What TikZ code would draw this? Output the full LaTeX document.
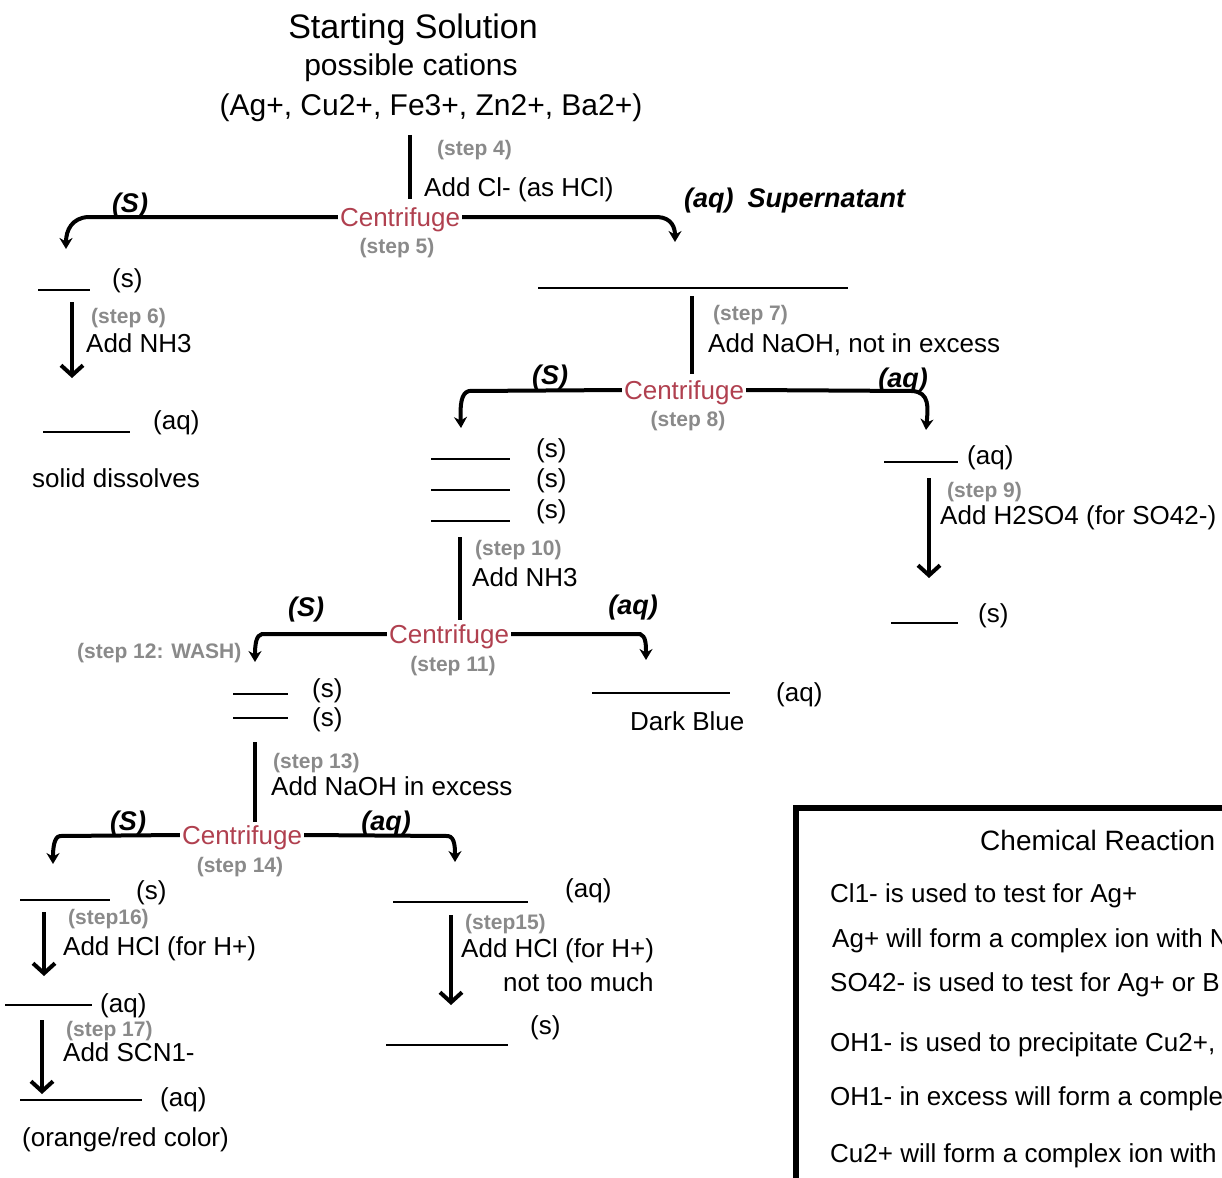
\documentclass[tikz,border=0pt]{standalone}
\usepackage{fontspec}
\setmainfont{Liberation Sans}
\usetikzlibrary{arrows.meta}
\definecolor{cfred}{HTML}{B0404F}
\definecolor{stepgray}{HTML}{8A8A8A}
\begin{document}
\begin{tikzpicture}[x=1pt,y=-1pt,
  txt/.style={inner sep=0pt,anchor=west,font=\fontsize{26}{30}\selectfont,text height=18.6pt,text depth=0pt},
  cf/.style={inner ysep=0pt,inner xsep=2pt,font=\fontsize{26}{30}\selectfont,text=cfred,text height=18.6pt,text depth=0pt},
  stp/.style={inner sep=0pt,font=\fontsize{21}{24}\selectfont\bfseries,text=stepgray,text height=15pt,text depth=0pt},
  hand/.style={inner sep=0pt,font=\fontsize{27}{30}\selectfont\bfseries\itshape},
  flow/.style={line width=4.5pt},
  hwarr/.style={line width=4pt,-{Stealth[length=11pt,width=13pt]}},
  darr/.style={line width=4pt,-{Straight Barb[length=10pt,width=22pt]}},
  blank/.style={line width=1.4pt}]
\useasboundingbox (0,0) rectangle (1222,1177);
\clip (0,0) rectangle (1222,1177);

% ---------- top ----------
\node[inner sep=0pt,font=\fontsize{34}{40}\selectfont] (title) at (413,30) {Starting Solution};
\node[inner sep=0pt,font=\fontsize{30}{36}\selectfont] (poss) at (411,68) {possible cations};
\node[inner sep=0pt,font=\fontsize{30}{36}\selectfont] (cations) at (431,108) {(Ag+, Cu2+, Fe3+, Zn2+, Ba2+)};
\coordinate (v1a) at (410,135);
\coordinate (v1b) at (410,199);
\node[stp,anchor=west] (s4) at (437,148) {(step 4)};
\node[txt] (addcl) at (424,187) {Add Cl- (as HCl)};
\node[cf] (cf1) at (400,217) {Centrifuge};
\node[stp] (s5) at (397,246) {(step 5)};
\draw[flow] (v1a) -- (v1b);
\coordinate (l1) at (88,217);
\coordinate (l1t) at (66,249);
\coordinate (r1) at (658,217);
\coordinate (r1t) at (675,242);
\draw[hwarr] (cf1.west) -- (l1) .. controls (72,218) and (66,230) .. (l1t);
\draw[hwarr] (cf1.east) -- (r1) .. controls (672,218) and (675,228) .. (r1t);
\node[hand] (hs1) at (130,206) {(S)};
\node[hand,anchor=west] (haq1) at (684,201) {(aq)\hspace{14pt}Supernatant};

% ---------- left column (step 6) ----------
\draw[blank] (38,290) -- (90,290);
\node[txt] (agcl) at (112,278) {(s)};
\coordinate (a6a) at (72,302);
\coordinate (a6b) at (72,378);
\draw[darr] (a6a) -- (a6b);
\node[stp,anchor=west] (s6) at (91,316) {(step 6)};
\node[txt] (addnh3a) at (86,343) {Add NH3};
\draw[blank] (43,432) -- (130,432);
\node[txt] (agaq) at (153,420) {(aq)};
\node[txt] (dissolve) at (32,478) {solid dissolves};

% ---------- supernatant ----------
\draw[blank] (538,288) -- (848,288);
\coordinate (v7a) at (692,296);
\coordinate (v7b) at (692,374);
\draw[flow] (v7a) -- (v7b);
\node[stp,anchor=west] (s7) at (713,313) {(step 7)};
\node[txt] (addnaoh) at (708,343) {Add NaOH, not in excess};
\node[cf] (cf2) at (684,390) {Centrifuge};
\node[stp] (s8) at (688,419) {(step 8)};
\coordinate (l2) at (469,391);
\coordinate (l2t) at (461,428);
\coordinate (r2) at (912,391);
\coordinate (r2t) at (926,430);
\draw[hwarr] (cf2.west) -- (l2) .. controls (461,393) and (460,405) .. (l2t);
\draw[hwarr] (cf2.east) -- (r2) .. controls (930,392) and (928,408) .. (r2t);
\node[hand] (hs2) at (550,378) {(S)};
\node[hand] (haq2) at (903,381) {(aq)};

% three solids
\draw[blank] (431,459) -- (510,459);
\draw[blank] (431,490) -- (510,490);
\draw[blank] (431,521) -- (510,521);
\node[txt] (p1) at (536,448) {(s)};
\node[txt] (p2) at (536,478) {(s)};
\node[txt] (p3) at (536,509) {(s)};
\coordinate (v10a) at (460,537);
\coordinate (v10b) at (460,620);
\draw[flow] (v10a) -- (v10b);
\node[stp,anchor=west] (s10) at (475,548) {(step 10)};
\node[txt] (addnh3b) at (472,577) {Add NH3};
\node[cf] (cf3) at (449,634) {Centrifuge};
\node[stp] (s11) at (453,664) {(step 11)};
\coordinate (l3) at (262,634);
\coordinate (l3t) at (255,662);
\coordinate (r3) at (640,634);
\coordinate (r3t) at (646,660);
\draw[hwarr] (cf3.west) -- (l3) .. controls (256,635) and (255,645) .. (l3t);
\draw[hwarr] (cf3.east) -- (r3) .. controls (646,636) and (646,645) .. (r3t);
\node[hand] (hs3) at (306,610) {(S)};
\node[hand] (haq3) at (633,608) {(aq)};
\node[stp,anchor=west] (s12) at (77,651) {(step 12: WASH)};

% dark blue
\draw[blank] (592,693) -- (730,693);
\node[txt] (cuaq) at (776,692) {(aq)};
\node[txt] (darkblue) at (630,721) {Dark Blue};

% two solids
\draw[blank] (233,694) -- (288,694);
\draw[blank] (233,718) -- (288,718);
\node[txt] (q1) at (312,688) {(s)};
\node[txt] (q2) at (312,717) {(s)};
\coordinate (v13a) at (255,742);
\coordinate (v13b) at (255,822);
\draw[flow] (v13a) -- (v13b);
\node[stp,anchor=west] (s13) at (273,761) {(step 13)};
\node[txt] (addnaohx) at (271,786) {Add NaOH in excess};
\node[cf] (cf4) at (242,835) {Centrifuge};
\node[stp] (s14) at (240,865) {(step 14)};
\coordinate (l4) at (60,836);
\coordinate (l4t) at (53,864);
\coordinate (r4) at (448,836);
\coordinate (r4t) at (455,862);
\draw[hwarr] (cf4.west) -- (l4) .. controls (54,837) and (53,848) .. (l4t);
\draw[hwarr] (cf4.east) -- (r4) .. controls (455,837) and (455,848) .. (r4t);
\node[hand] (hs4) at (128,824) {(S)};
\node[hand] (haq4) at (386,824) {(aq)};

% bottom left (steps 16, 17)
\draw[blank] (20,900) -- (110,900);
\node[txt] (fes) at (136,890) {(s)};
\coordinate (a16a) at (44,912);
\coordinate (a16b) at (44,976);
\draw[darr] (a16a) -- (a16b);
\node[stp,anchor=west] (s16) at (68,917) {(step16)};
\node[txt] (addhcl1) at (63,946) {Add HCl (for H+)};
\draw[blank] (5,1005) -- (92,1005);
\node[txt] (feaq) at (100,1003) {(aq)};
\coordinate (a17a) at (42,1020);
\coordinate (a17b) at (42,1094);
\draw[darr] (a17a) -- (a17b);
\node[stp,anchor=west] (s17) at (66,1029) {(step 17)};
\node[txt] (addscn) at (63,1052) {Add SCN1-};
\draw[blank] (20,1100) -- (142,1100);
\node[txt] (fescn) at (160,1097) {(aq)};
\node[txt] (orange) at (22,1137) {(orange/red color)};

% bottom middle (step 15)
\draw[blank] (393,902) -- (528,902);
\node[txt] (znaq) at (565,888) {(aq)};
\coordinate (a15a) at (451,915);
\coordinate (a15b) at (451,1005);
\draw[darr] (a15a) -- (a15b);
\node[stp,anchor=west] (s15) at (465,922) {(step15)};
\node[txt] (addhcl2) at (461,948) {Add HCl (for H+)};
\node[txt] (nottoo) at (503,982) {not too much};
\draw[blank] (386,1045) -- (508,1045);
\node[txt] (zns) at (530,1025) {(s)};

% right column (step 9)
\draw[blank] (884,462) -- (958,462);
\node[txt] (baaq) at (967,455) {(aq)};
\coordinate (a9a) at (929,478);
\coordinate (a9b) at (929,578);
\draw[darr] (a9a) -- (a9b);
\node[stp,anchor=west] (s9) at (947,490) {(step 9)};
\node[txt] (addh2so4) at (940,515) {Add H2SO4 (for SO42-)};
\draw[blank] (891,623) -- (958,623);
\node[txt] (bas) at (978,613) {(s)};

% ---------- reactions box ----------
\draw[line width=6pt] (796,1200) -- (796,808) -- (1240,808);
\node[txt,font=\fontsize{28}{32}\selectfont,text height=20pt] (rt) at (980,840) {Chemical Reaction};
\node[txt] (r1x) at (830,893) {Cl1- is used to test for Ag+};
\node[txt] (r2x) at (832,938) {Ag+ will form a complex ion with N};
\node[txt] (r3x) at (830,982) {SO42- is used to test for Ag+ or B};
\node[txt] (r4x) at (830,1042) {OH1- is used to precipitate Cu2+,};
\node[txt] (r5x) at (830,1096) {OH1- in excess will form a comple};
\node[txt] (r6x) at (830,1153) {Cu2+ will form a complex ion with};
\end{tikzpicture}
\end{document}
